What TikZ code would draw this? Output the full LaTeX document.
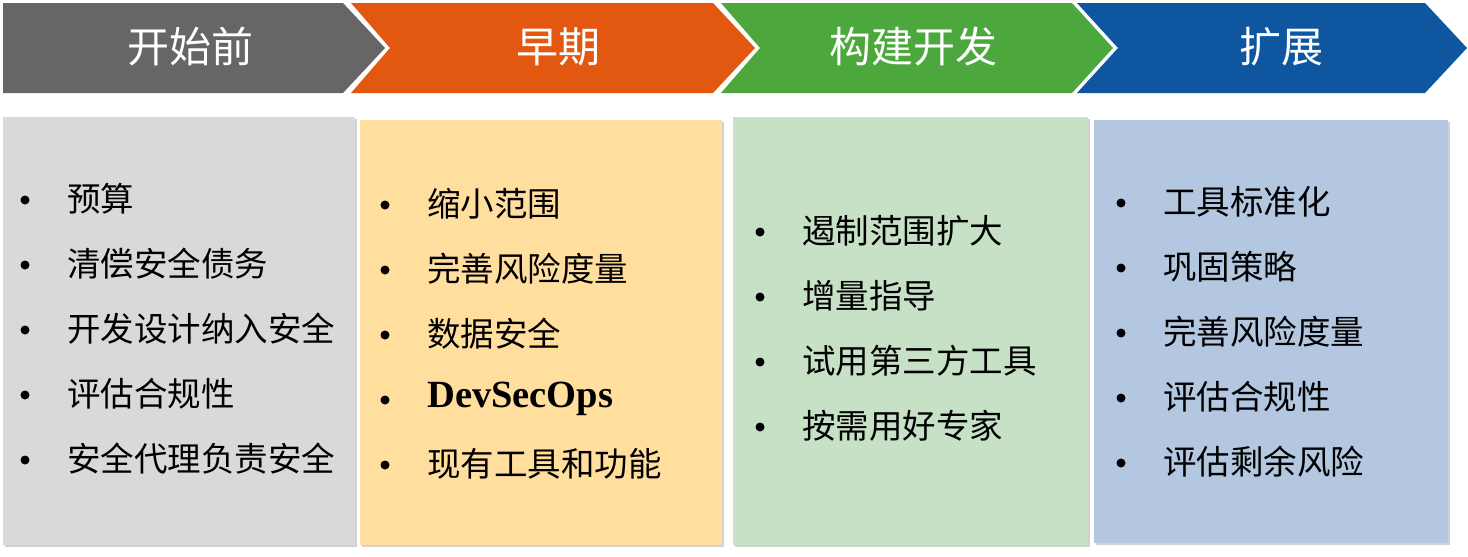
\documentclass[tikz,border=0pt]{standalone}
\usepackage{fontspec}
\setmainfont{Liberation Serif}
\newfontfamily\cjk{Noto Sans CJK SC}
\definecolor{gchev}{HTML}{666666}
\definecolor{ochev}{HTML}{E35810}
\definecolor{grchev}{HTML}{4CA83C}
\definecolor{bchev}{HTML}{0E56A0}
\definecolor{gbox}{HTML}{D9D9D9}
\definecolor{obox}{HTML}{FFDE9E}
\definecolor{grbox}{HTML}{C6E1C6}
\definecolor{bbox}{HTML}{B3C8E0}
\begin{document}
\begin{tikzpicture}[x=1pt,y=-1pt,
  head/.style={text=white,font=\cjk\fontsize{42}{42}\selectfont,inner sep=0pt},
  item/.style={anchor=west,font=\cjk\fontsize{33.5}{33.5}\selectfont,inner sep=0pt,text=black},
  bul/.style={circle,fill=black,inner sep=0pt,minimum size=9pt},
  shadowbox/.style={fill=black!18}]
\useasboundingbox (0,0) rectangle (1468,557);
% chevrons
\fill[gchev] (3,3) -- (343,3) -- (385,48) -- (343,93) -- (3,93) -- cycle;
\fill[ochev] (351,3) -- (713,3) -- (755,48) -- (713,93) -- (351,93) -- (390,48) -- cycle;
\fill[grchev] (721,3) -- (1072,3) -- (1113,48) -- (1072,93) -- (721,93) -- (760,48) -- cycle;
\fill[bchev] (1077,3) -- (1425,3) -- (1467,48) -- (1425,93) -- (1077,93) -- (1118,48) -- cycle;
\node[head] (h1) at (190,47) {开始前};
\node[head] (h2) at (558,47) {早期};
\node[head] (h3) at (913,47) {构建开发};
\node[head] (h4) at (1281,47) {扩展};
% boxes
\fill[shadowbox] (5,119) rectangle (357,547);
\fill[gbox] (3,117) rectangle (355,545);
\fill[shadowbox] (362,122) rectangle (724,547);
\fill[obox] (360,120) rectangle (722,545);
\fill[shadowbox] (735,119) rectangle (1090,547);
\fill[grbox] (733,117) rectangle (1088,545);
\fill[shadowbox] (1096,122) rectangle (1450,545);
\fill[bbox] (1094,120) rectangle (1448,543);
% column 1
\foreach \t [count=\i] in {预算,清偿安全债务,开发设计纳入安全,评估合规性,安全代理负责安全}{
  \node[bul] (b1\i) at (25,200+65*\i-65) {};
  \node[item] (t1\i) at (67,199+65*\i-65) {\t};
}
% column 2
\foreach \t [count=\i] in {缩小范围,完善风险度量,数据安全,{\bfseries\rmfamily\fontsize{38.5}{38.5}\selectfont DevSecOps},现有工具和功能}{
  \node[bul] (b2\i) at (385,205+65*\i-65) {};
  \node[item] (t2\i) at (427,204+65*\i-65) {\t};
}
% column 3
\foreach \t [count=\i] in {遏制范围扩大,增量指导,试用第三方工具,按需用好专家}{
  \node[bul] (b3\i) at (760,232+65*\i-65) {};
  \node[item] (t3\i) at (802,231+65*\i-65) {\t};
}
% column 4
\foreach \t [count=\i] in {工具标准化,巩固策略,完善风险度量,评估合规性,评估剩余风险}{
  \node[bul] (b4\i) at (1121,203+65*\i-65) {};
  \node[item] (t4\i) at (1163,202+65*\i-65) {\t};
}
\end{tikzpicture}
\end{document}
